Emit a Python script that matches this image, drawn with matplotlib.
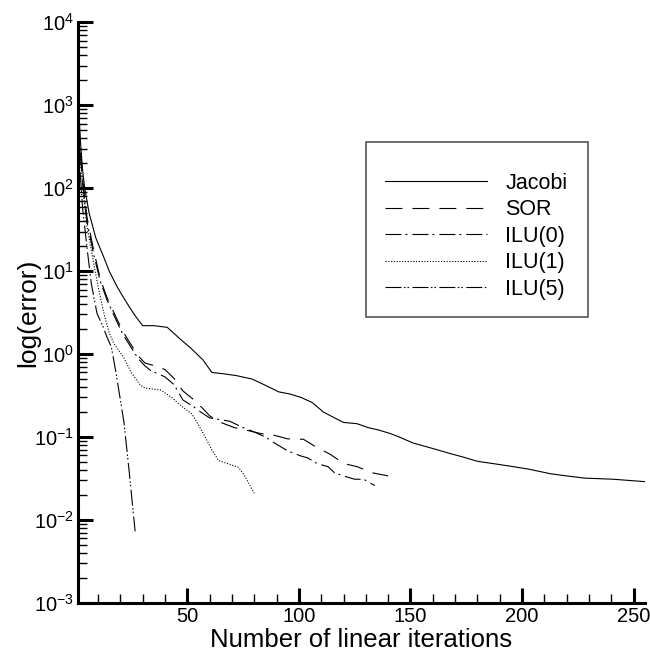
"""Convergence of linear solvers: error vs number of linear iterations."""

import matplotlib

matplotlib.use("Agg")
import matplotlib.pyplot as plt
from matplotlib.patches import Rectangle
from matplotlib.ticker import LogLocator, MultipleLocator, NullFormatter

# ── data ─────────────────────────────────────────────────────────────────────
jacobi_x = [1, 2, 3, 4, 6, 9, 12, 15, 18.5, 21, 24, 27, 30, 35, 41, 47, 52, 57,
            61, 66, 72, 79, 85, 91, 96, 101, 106, 111, 116, 120, 126, 131, 136,
            141, 145, 151, 159, 168, 174, 180, 189, 196, 203, 213, 220, 228, 241,
            255]
jacobi_y = [1500, 400, 170, 100, 50, 25, 16, 10, 6.5, 5, 3.7, 2.8, 2.2, 2.2,
            2.1, 1.5, 1.15, 0.85, 0.6, 0.58, 0.55, 0.5, 0.42, 0.35, 0.33, 0.3,
            0.26, 0.2, 0.17, 0.15, 0.145, 0.13, 0.121, 0.11, 0.1, 0.085, 0.074,
            0.063, 0.057, 0.051, 0.047, 0.044, 0.041, 0.036, 0.034, 0.032, 0.031,
            0.029]

sor_x = [1, 2, 3, 5, 8, 11, 14, 18, 21, 24, 28, 31, 34, 37, 40, 44, 48, 53, 57,
         60, 65, 71, 77, 83, 89, 95, 102, 108, 114, 120, 126, 133, 140]
sor_y = [1200, 300, 130, 45, 18, 8, 4.8, 2.8, 1.9, 1.4, 0.95, 0.78, 0.74, 0.7,
         0.65, 0.51, 0.36, 0.28, 0.22, 0.18, 0.15, 0.13, 0.12, 0.11, 0.105,
         0.095, 0.094, 0.075, 0.062, 0.048, 0.044, 0.037, 0.034]

ilu0_x = [1, 2, 3, 5, 8, 11, 14, 18, 21, 24, 28, 31, 34, 37, 40, 44, 48, 53, 56,
          60, 63, 69, 75, 80, 85, 89, 95, 101, 104, 108, 113, 116, 120, 125, 129,
          134]
ilu0_y = [1100, 280, 120, 40, 16, 7.5, 4.5, 2.6, 1.75, 1.3, 0.88, 0.72, 0.62,
          0.58, 0.53, 0.43, 0.28, 0.23, 0.2, 0.17, 0.165, 0.155, 0.13, 0.115,
          0.1, 0.085, 0.068, 0.059, 0.056, 0.048, 0.044, 0.037, 0.034, 0.031,
          0.031, 0.026]

ilu1_x = [1, 2, 3, 5, 8, 10, 12.6, 15, 17, 21.6, 25, 29, 31, 34, 38, 43, 47, 52,
          55, 58, 61, 64, 70, 73, 76, 80]
ilu1_y = [900, 250, 110, 35, 12.6, 6.5, 3.1, 1.8, 1.35, 0.9, 0.59, 0.42, 0.39,
          0.38, 0.37, 0.3, 0.24, 0.19, 0.14, 0.1, 0.07, 0.052, 0.046, 0.043,
          0.033, 0.021]

ilu5_x = [1, 2, 3, 5, 7, 9.5, 12, 14, 16, 18, 20, 21.6, 24, 26.6]
ilu5_y = [700, 150, 60, 19.5, 7, 3.1, 2.2, 1.6, 1.2, 0.6, 0.28, 0.15, 0.037,
          0.0073]

labels = ["Jacobi", "SOR", "ILU(0)", "ILU(1)", "ILU(5)"]

# ── style ────────────────────────────────────────────────────────────────────
plt.rcParams["font.family"] = ["Liberation Sans", "DejaVu Sans"]
plt.rcParams["mathtext.fontset"] = "custom"
plt.rcParams["mathtext.rm"] = "Liberation Sans"
plt.rcParams["mathtext.it"] = "Liberation Sans:italic"
plt.rcParams["lines.scale_dashes"] = False

styles = [
    "-",
    (0, (12.2, 7.2)),
    (0, (11.5, 2.9, 1.4, 3.6)),
    (0, (0.8, 1.2)),
    (0, (11.5, 1.8, 1.1, 1.4, 1.1, 2.5)),
]

fig = plt.figure(figsize=(6.5, 6.53), dpi=100)
ax = fig.add_axes([0.12, 0.0766, 0.872, 0.8894])

series = [(jacobi_x, jacobi_y), (sor_x, sor_y), (ilu0_x, ilu0_y),
          (ilu1_x, ilu1_y), (ilu5_x, ilu5_y)]
for (xs, ys), ls, lab in zip(series, styles, labels):
    ax.plot(xs, ys, color="black", linestyle=ls, linewidth=0.8, label=lab)

ax.set_yscale("log")
ax.set_xlim(1, 255)
ax.set_ylim(1e-3, 1e4)

ax.xaxis.set_major_locator(MultipleLocator(50))
ax.xaxis.set_minor_locator(MultipleLocator(10))
ax.yaxis.set_major_locator(LogLocator(base=10, numticks=20))
ax.yaxis.set_minor_locator(LogLocator(base=10, subs=range(2, 10), numticks=20))
ax.yaxis.set_minor_formatter(NullFormatter())

for side in ("top", "right"):
    ax.spines[side].set_visible(False)
for side in ("left", "bottom"):
    ax.spines[side].set_linewidth(2.2)

ax.tick_params(which="major", direction="in", length=10.8, width=2.2,
               labelsize=14.5, pad=3)
ax.tick_params(which="minor", direction="in", length=6.2, width=1.0,
               labelbottom=False, labelleft=False)
ax.tick_params(top=False, right=False, which="both")

ax.set_xlabel("Number of linear iterations", fontsize=18.5, labelpad=1)
ax.set_ylabel("log(error)", fontsize=19, labelpad=-5)

# legend with a separate frame (extra room above the first row)
ax.legend(loc="upper left", bbox_to_anchor=(385 / 650, 1 - 173 / 653),
          bbox_transform=fig.transFigure, frameon=False, fontsize=15.5,
          handlelength=4.74, handletextpad=0.84, labelspacing=0.25,
          borderpad=0, borderaxespad=0)
fig.patches.append(Rectangle((366 / 650, 1 - 317 / 653), 222 / 650, 175 / 653,
                             transform=fig.transFigure, fill=False,
                             edgecolor="#555555", linewidth=1.2))

fig.savefig("out.png", dpi=100)
plt.close(fig)
